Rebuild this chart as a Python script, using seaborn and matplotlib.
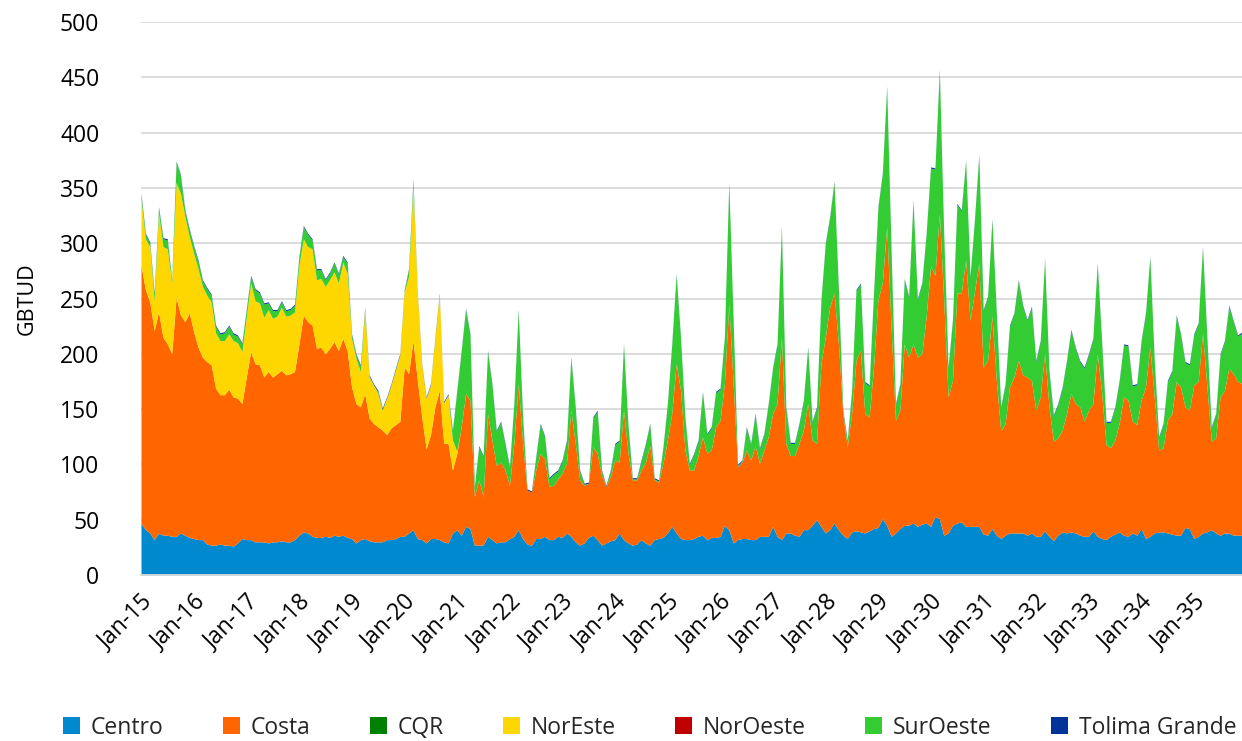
import matplotlib
matplotlib.use("Agg")
import matplotlib.pyplot as plt
import seaborn as sns
import pandas as pd
from matplotlib.patches import Patch

# monthly demand by region, GBTUD, Jan-2015 .. Dec-2035 (one row per year)
centro = [
    47, 41, 38, 32, 38, 36, 36, 35, 35, 38, 36, 34,
    33, 32, 32, 28, 27, 27, 28, 27, 27, 26, 29, 33,
    32, 32, 30, 30, 30, 29, 30, 30, 31, 30, 30, 32,
    36, 39, 38, 35, 34, 34, 35, 34, 36, 35, 36, 34,
    33, 29, 32, 33, 31, 30, 30, 30, 32, 32, 33, 35,
    35, 38, 41, 33, 32, 29, 33, 33, 32, 30, 29, 38,
    41, 36, 44, 42, 27, 27, 27, 35, 32, 29, 30, 30,
    33, 35, 41, 33, 28, 27, 33, 33, 35, 32, 32, 35,
    34, 38, 35, 30, 27, 29, 34, 36, 32, 27, 29, 31,
    32, 38, 32, 29, 27, 28, 32, 29, 27, 32, 33, 34,
    38, 44, 38, 33, 32, 32, 33, 35, 36, 32, 34, 34,
    35, 45, 41, 29, 32, 33, 33, 32, 32, 35, 35, 35,
    44, 35, 32, 38, 38, 36, 35, 41, 41, 45, 50, 44,
    38, 41, 47, 41, 36, 33, 39, 40, 39, 38, 40, 42,
    43, 51, 45, 35, 38, 42, 45, 45, 47, 44, 46, 47,
    44, 53, 51, 36, 38, 45, 47, 48, 44, 44, 44, 44,
    37, 36, 42, 36, 33, 36, 38, 38, 38, 38, 36, 38,
    35, 35, 40, 35, 31, 36, 39, 38, 39, 38, 36, 35,
    35, 40, 35, 33, 32, 35, 37, 39, 36, 35, 38, 36,
    42, 33, 35, 38, 39, 39, 38, 37, 36, 36, 43, 42,
    33, 35, 38, 39, 41, 38, 36, 38, 38, 36, 36, 36,
]

costa = [
    233, 217, 209, 189, 200, 179, 173, 165, 216, 197, 193, 203,
    187, 174, 165, 165, 163, 142, 135, 136, 141, 135, 131, 122,
    147, 170, 161, 160, 149, 155, 149, 152, 154, 151, 152, 152,
    173, 196, 191, 191, 171, 172, 165, 171, 175, 168, 178, 169,
    137, 126, 120, 131, 111, 107, 104, 101, 95, 101, 103, 104,
    153, 144, 171, 143, 111, 85, 94, 119, 135, 89, 90, 57,
    69, 98, 120, 116, 44, 59, 44, 111, 90, 70, 72, 65,
    48, 84, 132, 86, 49, 48, 62, 77, 70, 48, 49, 52,
    58, 63, 114, 89, 59, 52, 49, 80, 78, 63, 51, 58,
    72, 64, 117, 82, 59, 58, 63, 73, 90, 54, 51, 67,
    84, 102, 153, 134, 81, 63, 62, 73, 89, 78, 79, 100,
    105, 128, 204, 144, 66, 69, 80, 72, 85, 66, 78, 90,
    102, 120, 183, 81, 70, 72, 84, 90, 114, 77, 69, 147,
    177, 201, 208, 168, 110, 83, 107, 154, 164, 108, 103, 146,
    206, 213, 270, 189, 102, 107, 164, 152, 162, 153, 154, 187,
    235, 218, 276, 213, 123, 131, 208, 207, 241, 186, 212, 238,
    151, 158, 192, 140, 97, 101, 132, 141, 156, 143, 143, 138,
    114, 126, 160, 117, 90, 88, 92, 108, 125, 117, 116, 104,
    114, 115, 165, 132, 86, 80, 85, 98, 125, 123, 101, 100,
    116, 137, 171, 123, 74, 76, 102, 109, 139, 134, 109, 107,
    139, 140, 180, 131, 80, 86, 125, 129, 149, 146, 139, 137,
]

noreste = [
    60, 46, 50, 27, 89, 82, 86, 64, 104, 110, 95, 69,
    71, 71, 64, 60, 57, 50, 49, 49, 50, 51, 50, 47,
    54, 62, 57, 56, 54, 56, 53, 52, 57, 53, 53, 54,
    71, 69, 68, 69, 62, 62, 61, 62, 63, 61, 69, 70,
    44, 41, 32, 75, 37, 35, 30, 18, 33, 39, 49, 60,
    68, 88, 139, 78, 47, 46, 45, 62, 87, 37, 44, 27,
    2, 0, 0, 0, 0, 0, 0, 0, 0, 0, 0, 0,
] + [0] * 168

suroeste = [
    4, 4, 3, 6, 5, 7, 8, 2, 18, 16, 5, 6,
    6, 7, 5, 6, 6, 6, 6, 7, 7, 6, 6, 7,
    6, 6, 10, 9, 12, 6, 7, 5, 5, 5, 5, 6,
    7, 11, 11, 8, 9, 8, 6, 6, 8, 8, 5, 9,
    3, 3, 5, 2, 1, 0, 2, 1, 0, 0, 1, 0,
    1, 6, 6, 0, 0, 0, 0, 0, 0, 0, 0, 8,
    54, 68, 76, 59, 8, 30, 36, 56, 50, 31, 36, 23,
    16, 35, 66, 23, 0, 0, 11, 26, 20, 7, 10, 7,
    11, 20, 47, 32, 8, 1, 0, 26, 38, 4, 0, 5,
    14, 19, 59, 25, 1, 1, 8, 16, 19, 1, 1, 14,
    32, 62, 80, 47, 29, 5, 14, 13, 40, 17, 20, 31,
    28, 41, 109, 56, 1, 1, 20, 14, 28, 13, 14, 29,
    41, 53, 99, 32, 11, 11, 17, 26, 50, 16, 32, 56,
    84, 81, 100, 48, 2, 5, 20, 63, 60, 28, 28, 66,
    83, 98, 126, 69, 14, 23, 58, 54, 129, 52, 63, 74,
    89, 96, 129, 59, 26, 54, 80, 74, 89, 39, 64, 97,
    51, 57, 87, 60, 21, 35, 55, 57, 72, 62, 51, 66,
    44, 50, 85, 32, 23, 30, 38, 47, 57, 50, 41, 48,
    50, 58, 81, 46, 20, 23, 29, 38, 47, 49, 32, 36,
    53, 66, 81, 32, 11, 21, 35, 38, 59, 47, 40, 41,
    45, 52, 78, 44, 12, 21, 38, 44, 56, 47, 41, 46,
]

# Tolima Grande is a thin ~1 GBTUD layer on top, CQR / NorOeste read as zero
tolima = [1] * len(centro)
cqr = [0] * len(centro)
noroeste = [0] * len(centro)

months = pd.date_range("2015-01-01", periods=len(centro), freq="MS")
regions = ["Centro", "Costa", "CQR", "NorEste", "NorOeste", "SurOeste", "Tolima Grande"]
colors = ["#0089CF", "#FF6600", "#008000", "#FFD700", "#C00000", "#33CC33", "#003399"]

sns.set_theme(style="white")
plt.rcParams["font.family"] = ["Open Sans", "DejaVu Sans"]

fig = plt.figure(figsize=(12.42, 7.41), dpi=100)
ax = fig.add_axes([141 / 1242, 166 / 741, 1101 / 1242, 553 / 741])

x = list(range(len(months)))
ax.stackplot(x, centro, costa, cqr, noreste, noroeste, suroeste, tolima,
             colors=colors, linewidth=0)

ax.set_xlim(0, len(months) - 1)
ax.set_ylim(0, 500)
ax.set_yticks(range(0, 501, 50))
ax.yaxis.grid(True, color="#d9d9d9", linewidth=1.3)
ax.set_axisbelow(True)

jan_idx = [i for i, d in enumerate(months) if d.month == 1]
ax.set_xticks(jan_idx)
ax.set_xticklabels([months[i].strftime("%b-%y") for i in jan_idx],
                   rotation=45, ha="right", rotation_mode="anchor", fontsize=16.5)
ax.tick_params(axis="x", length=7, width=1.3, color="#d9d9d9", pad=4, direction="out")
ax.tick_params(axis="y", length=0, pad=30, labelsize=16.5)
for lbl in ax.get_yticklabels():
    lbl.set_color("black")
for lbl in ax.get_xticklabels():
    lbl.set_color("black")

for side in ["top", "right", "left"]:
    ax.spines[side].set_visible(False)
ax.spines["bottom"].set_color("#d9d9d9")
ax.spines["bottom"].set_linewidth(1.3)

ax.set_ylabel("GBTUD", fontsize=15.5, color="black")
ax.yaxis.set_label_coords(-0.094, 0.5)

handles = [Patch(facecolor=c, edgecolor="none", label=r) for r, c in zip(regions, colors)]
fig.legend(handles=handles, loc="center", bbox_to_anchor=(0.523, 0.018), ncol=7,
           frameon=False, fontsize=16.5, handlelength=0.75, handleheight=0.75,
           handletextpad=0.45, columnspacing=2.6)

fig.savefig("out.png", dpi=100)
plt.close(fig)
